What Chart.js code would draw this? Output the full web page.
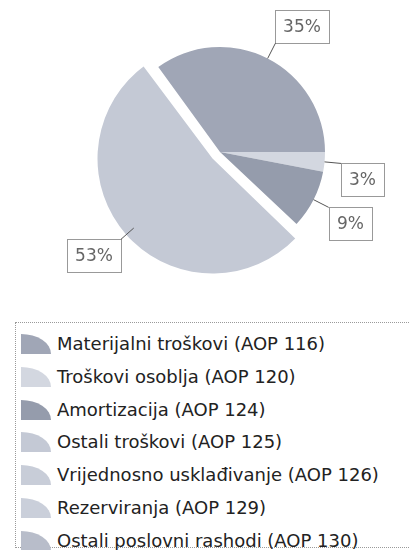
<!DOCTYPE html>
<html>
<head>
<meta charset="utf-8">
<script src="https://cdn.jsdelivr.net/npm/chart.js@4"></script>
<style>
  html, body { margin: 0; padding: 0; background: #fff; }
  body { width: 410px; height: 550px; position: relative; overflow: hidden; font-family: "DejaVu Sans", sans-serif; }
  #pieWrap { position: absolute; left: 0; top: 0; width: 410px; height: 300px; }
  #legend {
    position: absolute; left: 15px; top: 322px; width: 420px; height: 226px;
    border: 1px dotted #9a9a9a; box-sizing: border-box;
  }
  .sw { position: absolute; left: 5px; width: 30px; height: 20px; border-top-right-radius: 100% 100%; }
  .txt { position: absolute; left: 41px; white-space: nowrap; font-size: 18px; color: #222; line-height: 24px; }
</style>
</head>
<body>
<div id="pieWrap"><canvas id="pie"></canvas></div>
<div id="legend"></div>
<script>
  const categories = [
    'Materijalni troškovi (AOP 116)',
    'Troškovi osoblja (AOP 120)',
    'Amortizacija (AOP 124)',
    'Ostali troškovi (AOP 125)',
    'Vrijednosno usklađivanje (AOP 126)',
    'Rezerviranja (AOP 129)',
    'Ostali poslovni rashodi (AOP 130)'
  ];
  const shares = [35, 3, 9, 53, 0, 0, 0];
  const colors = ['#a0a6b6', '#d3d7e0', '#959cac', '#c4c9d5', '#c8cdd8', '#cacfda', '#b8bdca'];
  // chart.js moves an arc by offset / 4 px
  const offsets = [0, 0, 0, 40, 0, 0, 0];

  const total = shares.reduce((s, v) => s + v, 0);

  // callout boxes with leader lines, like the original flash chart
  const calloutPlugin = {
    id: 'callouts',
    afterDatasetsDraw(chart) {
      const ctx = chart.ctx;
      const meta = chart.getDatasetMeta(0);
      ctx.save();
      ctx.font = '17px "DejaVu Sans", sans-serif';
      meta.data.forEach((arc, i) => {
        const value = shares[i];
        if (!value) return;
        const p = arc.getProps(['x', 'y', 'startAngle', 'endAngle', 'outerRadius'], true);
        const mid = (p.startAngle + p.endAngle) / 2;
        const cos = Math.cos(mid);
        const sin = Math.sin(mid);
        const shift = offsets[i] / 4;
        const cx = p.x + cos * shift;
        const cy = p.y + sin * shift;
        const x1 = cx + cos * p.outerRadius;
        const y1 = cy + sin * p.outerRadius;
        const x2 = cx + cos * (p.outerRadius + 17);
        const y2 = cy + sin * (p.outerRadius + 17);

        const label = Math.round(value / total * 100) + '%';
        const tw = ctx.measureText(label).width;
        const bw = Math.round(tw + 16);
        const bh = 33;
        const bx = Math.round(cos >= 0 ? x2 : x2 - bw);
        const by = Math.round(sin >= 0 ? y2 : y2 - bh);

        ctx.strokeStyle = '#555';
        ctx.lineWidth = 1;
        ctx.setLineDash([]);
        ctx.beginPath();
        ctx.moveTo(x1, y1);
        ctx.lineTo(x2, y2);
        ctx.stroke();

        ctx.fillStyle = '#fff';
        ctx.fillRect(bx, by, bw, bh);
        ctx.setLineDash([1, 1]);
        ctx.strokeStyle = '#333';
        ctx.strokeRect(bx + 0.5, by + 0.5, bw, bh);

        ctx.fillStyle = '#666';
        ctx.textAlign = 'center';
        ctx.textBaseline = 'middle';
        ctx.fillText(label, bx + bw / 2, by + bh / 2 + 1);
      });
      ctx.restore();
    }
  };

  const chart = new Chart(document.getElementById('pie'), {
    type: 'pie',
    data: {
      labels: categories,
      datasets: [{
        data: shares,
        backgroundColor: colors,
        borderWidth: 0,
        offset: offsets
      }]
    },
    options: {
      responsive: true,
      maintainAspectRatio: false,
      animation: false,
      rotation: -36,
      layout: { padding: { left: 95, right: 65, top: 27, bottom: 23 } },
      plugins: {
        legend: { display: false },
        tooltip: { enabled: false }
      }
    },
    plugins: [calloutPlugin]
  });

  // legend built from the same arrays
  const legendEl = document.getElementById('legend');
  categories.forEach((name, i) => {
    const top = 9 + i * 32.8;
    const sw = document.createElement('div');
    sw.className = 'sw';
    sw.style.top = (top + 2) + 'px';
    sw.style.background = colors[i];
    legendEl.appendChild(sw);
    const t = document.createElement('div');
    t.className = 'txt';
    t.style.top = top + 'px';
    t.textContent = name;
    legendEl.appendChild(t);
  });
</script>
</body>
</html>
